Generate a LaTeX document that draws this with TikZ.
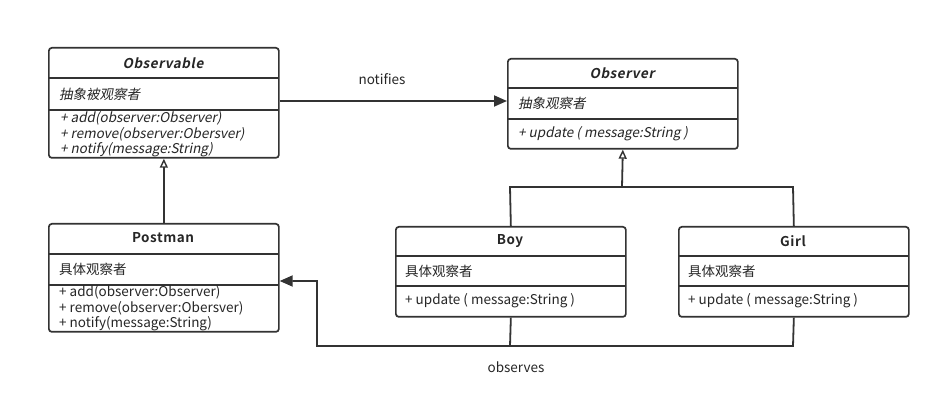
\documentclass[tikz,border=0pt]{standalone}
\usepackage{fontspec}
\setmainfont{Noto Sans CJK SC}[
  ItalicFont=Noto Sans CJK SC, ItalicFeatures={FakeSlant=0.2},
  BoldFont=Noto Sans CJK SC Bold,
  BoldItalicFont=Noto Sans CJK SC Bold, BoldItalicFeatures={FakeSlant=0.2}]
\usetikzlibrary{arrows.meta}
\begin{document}
\begin{tikzpicture}[x=1pt,y=-1pt,
  box/.style={draw=black!80, line width=1.7pt, rounded corners=3pt, inner sep=0pt, anchor=north west},
  sep/.style={draw=black!80, line width=1.7pt},
  head/.style={font=\fontsize{13.5}{15}\selectfont\bfseries\addfontfeature{LetterSpace=4}, text=black!85},
  txt/.style={font=\fontsize{13.5}{16}\selectfont, text=black!85, anchor=west, inner sep=0pt},
  conn/.style={draw=black!80, line width=1.8pt},
  inh/.style={conn, -{Triangle[open, width=8pt, length=9pt, line width=1.4pt]}},
  dep/.style={conn, -{Triangle[width=11pt, length=13pt]}},
  lbl/.style={font=\fontsize{13.5}{15}\selectfont, text=black!85}
]
\useasboundingbox (0,0) rectangle (940,419);
\fill[white] (0,0) rectangle (940,419);

% Observable
\node[box, minimum width=230pt, minimum height=110pt] (obl) at (48,47) {};
\draw[sep] (48,78) -- (278,78);
\draw[sep] (48,110) -- (278,110);
\node[head] (oblh) at (163,63) {\itshape Observable};
\node[txt] (obla) at (59,94) {\itshape 抽象被观察者};
\node[txt] (oblm1) at (60,118) {\itshape + add(observer:Observer)};
\node[txt] (oblm2) at (60,134) {\itshape + remove(observer:Obersver)};
\node[txt] (oblm3) at (60,150) {\itshape + notify(message:String)};

% Postman
\node[box, minimum width=230pt, minimum height=108pt] (pm) at (48,223) {};
\draw[sep] (48,254) -- (278,254);
\draw[sep] (48,285) -- (278,285);
\node[head] (pmh) at (163,238) {Postman};
\node[txt] (pma) at (59,269) {具体观察者};
\node[txt] (pmm1) at (59,292) {+ add(observer:Observer)};
\node[txt] (pmm2) at (59,308) {+ remove(observer:Obersver)};
\node[txt] (pmm3) at (59,324) {+ notify(message:String)};

% Observer
\node[box, minimum width=230pt, minimum height=90pt] (obr) at (507,58) {};
\draw[sep] (507,88) -- (737,88);
\draw[sep] (507,119) -- (737,119);
\node[head] (obrh) at (622,73) {\itshape Observer};
\node[txt] (obra) at (518,103) {\itshape 抽象观察者};
\node[txt] (obrm) at (518,134) {\itshape + update ( message:String )};

% Boy
\node[box, minimum width=230pt, minimum height=90pt] (boy) at (395,226) {};
\draw[sep] (395,256) -- (625,256);
\draw[sep] (395,286) -- (625,286);
\node[head] (boyh) at (510,241) {Boy};
\node[txt] (boya) at (405,271) {具体观察者};
\node[txt] (boym) at (405,301) {+ update ( message:String )};

% Girl
\node[box, minimum width=230pt, minimum height=90pt] (girl) at (678,226) {};
\draw[sep] (678,256) -- (908,256);
\draw[sep] (678,286) -- (908,286);
\node[head] (girlh) at (793,241) {Girl};
\node[txt] (girla) at (688,271) {具体观察者};
\node[txt] (girlm) at (688,301) {+ update ( message:String )};

% notifies
\draw[dep] (obl.east |- 0,101) -- (obr.west |- 0,101);
\node[lbl] (nt) at (382,79) {notifies};

% Postman -> Observable
\draw[inh] (pm.north) -- (obl.south);

% Boy, Girl -> Observer
\coordinate (j1) at (510,187);
\coordinate (j2) at (793,187);
\coordinate (jm) at (622,187);
\draw[conn] (boy.north) -- (j1) -- (j2) -- (girl.north);
\draw[inh] (jm) -- (obr.south);

% observes
\coordinate (b1) at (510,346);
\coordinate (b2) at (793,346);
\coordinate (b3) at (317,346);
\coordinate (b4) at (317,281);
\draw[conn] (boy.south) -- (b1);
\draw[dep] (girl.south) -- (b2) -- (b3) -- (b4) -- (pm.east |- b4);
\node[lbl] (ob) at (516,367) {observes};
\end{tikzpicture}
\end{document}
